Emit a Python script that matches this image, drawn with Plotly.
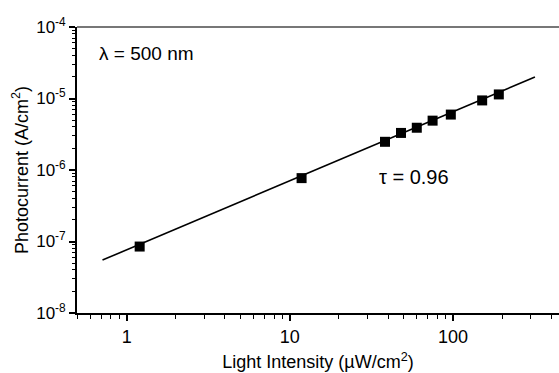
import plotly.graph_objects as go

# Data
intensity = [1.2, 11.8, 38.3, 48, 60, 75, 97, 151, 191]          # µW/cm²
photocurrent = [8.5e-8, 7.7e-7, 2.48e-6, 3.3e-6, 3.9e-6, 4.9e-6, 5.96e-6, 9.4e-6, 1.14e-5]  # A/cm²
fit_x = [0.71, 318]
fit_y = [5.5e-8, 2.0e-5]

y_tickvals = [1e-8, 1e-7, 1e-6, 1e-5, 1e-4]
y_ticktext = ["10<sup>-8</sup>", "10<sup>-7</sup>", "10<sup>-6</sup>", "10<sup>-5</sup>", "10<sup>-4</sup>"]
x_tickvals = [1, 10, 100]
x_ticktext = ["1", "10", "100"]

font_family = "Liberation Sans, Arial, sans-serif"

fig = go.Figure()
fig.add_trace(go.Scatter(x=fit_x, y=fit_y, mode="lines",
                         line=dict(color="black", width=1.6), showlegend=False))
fig.add_trace(go.Scatter(x=intensity, y=photocurrent, mode="markers",
                         marker=dict(symbol="square", size=10, color="black"),
                         showlegend=False))

fig.update_layout(
    width=559, height=373,
    margin=dict(l=77, r=0, t=27, b=60),
    plot_bgcolor="white", paper_bgcolor="white",
    font=dict(family=font_family, color="black", size=17),
    xaxis=dict(
        type="log", range=[-0.305, 2.65],
        tickvals=x_tickvals, ticktext=x_ticktext,
        ticks="outside", ticklen=6, tickwidth=1.5, tickcolor="black",
        minor=dict(ticks="outside", ticklen=4, tickwidth=1.2, tickcolor="black", dtick="D1", showgrid=False),
        showline=True, linecolor="black", linewidth=1.8,
        showgrid=False, zeroline=False,
        tickfont=dict(size=18),
        title=dict(text="Light Intensity (µW/cm<sup>2</sup>)", font=dict(size=18), standoff=10),
    ),
    yaxis=dict(
        type="log", range=[-8, -4],
        tickvals=y_tickvals, ticktext=y_ticktext,
        ticks="outside", ticklen=6, tickwidth=1.5, tickcolor="black",
        minor=dict(ticks="outside", ticklen=3, tickwidth=1.2, tickcolor="black", dtick="D1", showgrid=False),
        showline=True, linecolor="black", linewidth=1.8,
        showgrid=False, zeroline=False,
        tickfont=dict(size=17),
        title=dict(text="Photocurrent (A/cm<sup>2</sup>)", font=dict(size=18), standoff=3),
    ),
    shapes=[dict(type="line", xref="paper", yref="paper", x0=0, x1=1, y0=1, y1=1,
                 line=dict(color="#777777", width=2))],
    annotations=[
        dict(text="λ = 500 nm", xref="paper", yref="paper", x=0.0415, y=0.909,
             xanchor="left", yanchor="middle", showarrow=False, font=dict(size=19)),
        dict(text="τ = 0.96", xref="paper", yref="paper", x=0.622, y=0.476,
             xanchor="left", yanchor="middle", showarrow=False, font=dict(size=20)),
    ],
)

fig.write_html(
    "out.html",
    config={"displayModeBar": False},
    post_script="document.body.style.margin='0';document.body.style.overflow='hidden';",
)
